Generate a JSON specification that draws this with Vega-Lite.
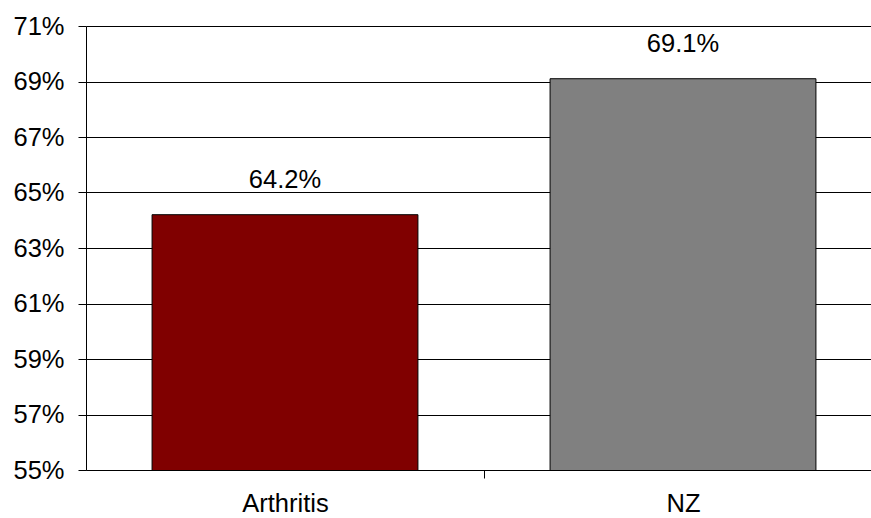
{
  "$schema": "https://vega.github.io/schema/vega-lite/v6.json",
  "width": 796,
  "height": 444,
  "autosize": {"type": "none"},
  "padding": {"left": 86, "top": 26, "right": 0, "bottom": 48},
  "background": "white",
  "config": {
    "view": {"stroke": null},
    "font": "Liberation Sans"
  },
  "data": {
    "values": [
      {"group": "Arthritis", "value": 0.642},
      {"group": "NZ", "value": 0.691}
    ]
  },
  "encoding": {
    "x": {
      "field": "group",
      "type": "nominal",
      "sort": null,
      "scale": {"paddingInner": 0.332, "paddingOuter": 0.166},
      "axis": {
        "title": null,
        "labelAngle": 0,
        "labelFont": "Liberation Sans",
        "labelFontSize": 25.5,
        "labelColor": "black",
        "labelPadding": 13,
        "tickOffset": 199,
        "labelOffset": -199,
        "tickColor": "black",
        "tickSize": 8,
        "domainColor": "black",
        "grid": false
      }
    },
    "y": {
      "field": "value",
      "type": "quantitative",
      "scale": {"domain": [0.55, 0.71], "nice": false, "zero": false},
      "axis": {
        "title": null,
        "values": [0.55, 0.57, 0.59, 0.61, 0.63, 0.65, 0.67, 0.69, 0.71],
        "format": ".0%",
        "labelFont": "Liberation Sans",
        "labelFontSize": 25.5,
        "labelColor": "black",
        "labelPadding": 14,
        "tickColor": "black",
        "tickSize": 8,
        "domainColor": "black",
        "grid": true,
        "gridColor": "black",
        "gridOpacity": 1,
        "gridWidth": 1
      }
    }
  },
  "layer": [
    {
      "mark": {"type": "bar", "stroke": "black", "strokeWidth": 1, "clip": true},
      "encoding": {
        "color": {
          "field": "group",
          "type": "nominal",
          "scale": {"domain": ["Arthritis", "NZ"], "range": ["#800000", "#808080"]},
          "legend": null
        }
      }
    },
    {
      "mark": {"type": "text", "baseline": "alphabetic", "dy": -27, "fontSize": 25.5, "font": "Liberation Sans", "color": "black"},
      "encoding": {
        "text": {"field": "value", "format": ".1%"}
      }
    }
  ]
}
